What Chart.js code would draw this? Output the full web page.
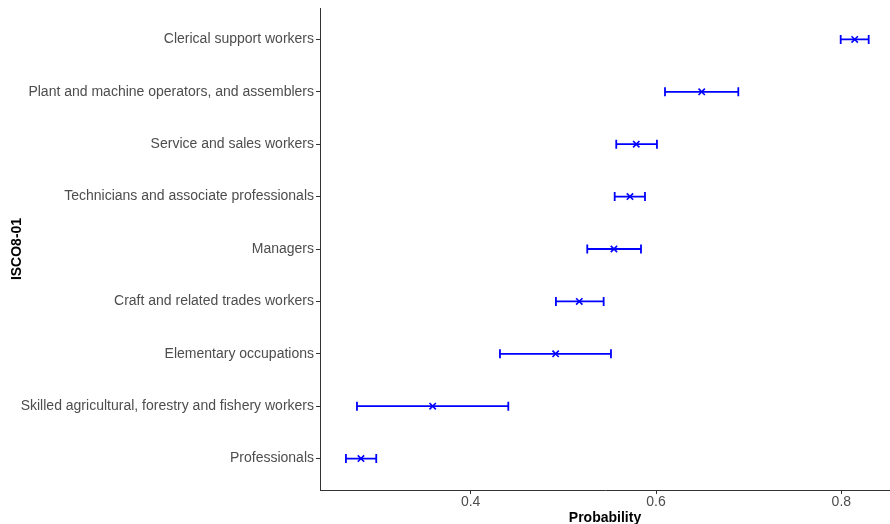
<!DOCTYPE html>
<html>
<head>
<meta charset="utf-8">
<script src="https://cdn.jsdelivr.net/npm/chart.js@4"></script>
<style>
  html, body { margin: 0; padding: 0; background: #fff; }
  #wrap { width: 890px; height: 524px; }
</style>
</head>
<body>
<div id="wrap"><canvas id="c" width="890" height="524"></canvas></div>
<script>
// Occupation groups, bottom row first
const categories = [
  "Professionals",
  "Skilled agricultural, forestry and fishery workers",
  "Elementary occupations",
  "Craft and related trades workers",
  "Managers",
  "Technicians and associate professionals",
  "Service and sales workers",
  "Plant and machine operators, and assemblers",
  "Clerical support workers"
];
const estimate = [0.2816, 0.3590, 0.4917, 0.5172, 0.5546, 0.5719, 0.5787, 0.6493, 0.8144];
const lower    = [0.2654, 0.2773, 0.4316, 0.4920, 0.5258, 0.5554, 0.5571, 0.6097, 0.7993];
const upper    = [0.2981, 0.4406, 0.5514, 0.5435, 0.5838, 0.5881, 0.6010, 0.6888, 0.8295];
const xTicks = [0.4, 0.6, 0.8];

const BLUE = '#0000FF';
const AXIS = '#333333';
const TICKTEXT = '#4D4D4D';

// horizontal confidence interval with end caps
const errorBars = {
  id: 'errorBars',
  beforeDatasetsDraw(chart) {
    const { ctx, scales: { x, y } } = chart;
    ctx.save();
    ctx.strokeStyle = BLUE;
    ctx.lineWidth = 1.8;
    const cap = 4.5;
    categories.forEach((_, i) => {
      const py = y.getPixelForValue(i + 1);
      const x0 = x.getPixelForValue(lower[i]);
      const x1 = x.getPixelForValue(upper[i]);
      ctx.beginPath();
      ctx.moveTo(x0, py); ctx.lineTo(x1, py);
      ctx.moveTo(x0, py - cap); ctx.lineTo(x0, py + cap);
      ctx.moveTo(x1, py - cap); ctx.lineTo(x1, py + cap);
      ctx.stroke();
    });
    ctx.restore();
  }
};

new Chart(document.getElementById('c'), {
  type: 'scatter',
  data: {
    datasets: [{
      data: estimate.map((v, i) => ({ x: v, y: i + 1 })),
      pointStyle: 'crossRot',
      radius: 4.5,
      hoverRadius: 4.5,
      borderWidth: 1.6,
      borderColor: BLUE,
      backgroundColor: BLUE
    }]
  },
  plugins: [errorBars],
  options: {
    responsive: false,
    animation: false,
    layout: { autoPadding: false, padding: { top: 8, right: 0, left: 0, bottom: 0 } },
    plugins: { legend: { display: false }, tooltip: { enabled: false } },
    scales: {
      x: {
        type: 'linear',
        min: 0.2374,
        max: 0.8525,
        afterBuildTicks(s) { s.ticks = xTicks.map(v => ({ value: v })); },
        afterFit(s) { s.height = 34; s.paddingLeft = 0; s.paddingRight = 0; },
        border: { display: true, color: AXIS, width: 1 },
        grid: { drawOnChartArea: false, drawTicks: true, tickLength: 4, color: AXIS },
        ticks: {
          color: TICKTEXT,
          padding: 0,
          font: { family: 'Liberation Sans', size: 14 },
          callback: v => v.toFixed(1)
        },
        title: {
          display: true,
          text: 'Probability',
          color: '#000',
          font: { family: 'Liberation Sans', size: 14, weight: 'bold' },
          padding: { top: 0, bottom: -3 }
        }
      },
      y: {
        type: 'linear',
        min: 0.4,
        max: 9.6,
        afterBuildTicks(s) { s.ticks = categories.map((_, i) => ({ value: i + 1 })); },
        afterFit(s) { s.width = 320; s.paddingTop = 0; s.paddingBottom = 0; },
        border: { display: true, color: AXIS, width: 1 },
        grid: { drawOnChartArea: false, drawTicks: true, tickLength: 4, color: AXIS },
        ticks: {
          color: TICKTEXT,
          padding: 2,
          autoSkip: false,
          font: { family: 'Liberation Sans', size: 14 },
          callback: v => categories[Math.round(v) - 1]
        },
        title: {
          display: true,
          text: 'ISCO8-01',
          color: '#000',
          font: { family: 'Liberation Sans', size: 14, weight: 'bold' },
          padding: { top: 9, bottom: 0 }
        }
      }
    }
  }
});
</script>
</body>
</html>
